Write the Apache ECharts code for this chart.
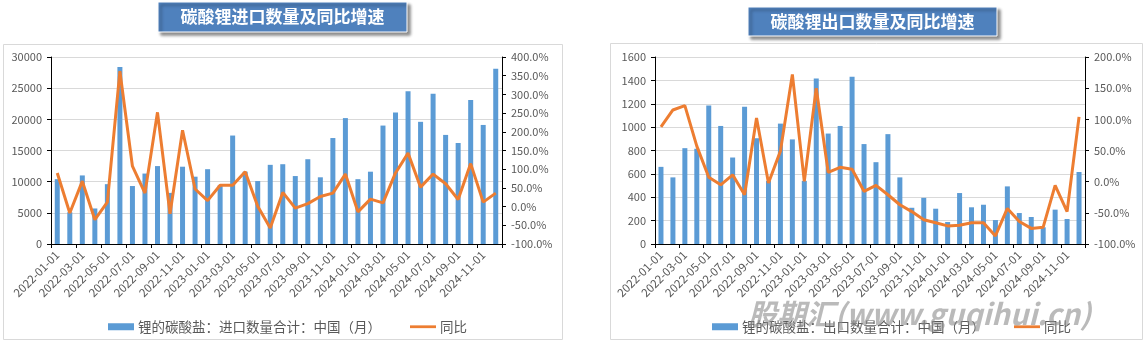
<!DOCTYPE html>
<html><head><meta charset="utf-8">
<script src="https://cdn.jsdelivr.net/npm/echarts@6/dist/echarts.min.js"></script>
<style>html,body{margin:0;padding:0;background:#fff}#c{width:1146px;height:342px}</style>
</head><body><div id="c"></div>
<script>
const categories = [
 '2022-01-01','2022-02-01','2022-03-01','2022-04-01','2022-05-01','2022-06-01','2022-07-01','2022-08-01','2022-09-01','2022-10-01','2022-11-01','2022-12-01',
 '2023-01-01','2023-02-01','2023-03-01','2023-04-01','2023-05-01','2023-06-01','2023-07-01','2023-08-01','2023-09-01','2023-10-01','2023-11-01','2023-12-01',
 '2024-01-01','2024-02-01','2024-03-01','2024-04-01','2024-05-01','2024-06-01','2024-07-01','2024-08-01','2024-09-01','2024-10-01','2024-11-01','2024-12-01'];
const importQty = [10400,5100,11000,5700,9600,28400,9300,11300,12500,8200,12400,10800,
 12000,9400,17400,11600,10100,12700,12800,10900,13600,10700,17000,20200,
 10400,11600,19000,21100,24500,19600,24100,17500,16200,23100,19100,28100];
const importYoY = [90,-17,68,-35,12,362,108,36,252,-19,204,47,
 16,57,57,93,1,-57,38,-4,8,27,36,87,
 -14,20,10,90,143,52,87,61,19,115,12,36];
const exportQty = [660,570,820,815,1185,1010,740,1175,905,540,1030,895,
 540,1415,945,1010,1430,855,700,940,570,310,395,302,
 188,436,314,336,205,493,265,231,143,294,214,616];
const exportYoY = [88,115,122,57,7,-5,11,-21,102,-2,49,172,
 0.5,150,15,23,20,-15.5,-6,-21,-37,-48,-61,-66,
 -71,-70,-66,-66,-87,-43,-64,-75,-73,-6,-48,104];
const titles = ['碳酸锂进口数量及同比增速','碳酸锂出口数量及同比增速'];
const barNames = ['锂的碳酸盐：进口数量合计：中国（月）','锂的碳酸盐：出口数量合计：中国（月）'];
const lineName = '同比';
const watermark = '股期汇(www.guqihui.cn)';

const TXT = '#595959', FONT = '"Noto Sans CJK SC","Noto Sans",sans-serif';
const BLUE = '#5B9BD5', ORANGE = '#ED7D31';

function xAx(gi){
  return {type:'category', gridIndex:gi, data:categories, boundaryGap:true,
    axisLine:{lineStyle:{color:'#000',width:1}},
    axisTick:{show:true, interval:1, length:4, lineStyle:{color:'#000'}},
    axisLabel:{interval:1, rotate:45, fontSize:11.5, color:TXT, margin:9, fontFamily:FONT}};
}
function yAxL(gi,max,intv){
  return {type:'value', gridIndex:gi, min:0, max:max, interval:intv, position:'left',
    axisLine:{show:true, lineStyle:{color:'#000'}},
    axisTick:{show:true, length:4, lineStyle:{color:'#000'}},
    splitLine:{show:true, lineStyle:{color:'#D9D9D9', width:1}},
    axisLabel:{fontSize:11, color:TXT, margin:9, fontFamily:FONT, formatter:v=>String(v)}};
}
function yAxR(gi,min,max,intv){
  return {type:'value', gridIndex:gi, min:min, max:max, interval:intv, position:'right',
    axisLine:{show:true, lineStyle:{color:'#000'}},
    axisTick:{show:true, length:4, lineStyle:{color:'#000'}},
    splitLine:{show:false},
    axisLabel:{fontSize:11, color:TXT, margin:9, fontFamily:FONT, formatter:v=>v.toFixed(1)+'%'}};
}
function titleBox(x,y,w,h,text){
  return [
    {type:'rect', z:50, shape:{x:x,y:y,width:w,height:h},
      style:{fill:'#4F81BD', stroke:'#fff', lineWidth:1, shadowBlur:3, shadowOffsetX:3, shadowOffsetY:3, shadowColor:'rgba(0,0,0,0.45)'}},
    {type:'text', z:51, x:x+w/2, y:y+h/2,
      style:{text:text, fill:'#fff', font:'bold 17px '+FONT, align:'center', verticalAlign:'middle'}}
  ];
}
const chart = echarts.init(document.getElementById('c'), null, {renderer:'canvas'});
chart.setOption({
  animation:false,
  backgroundColor:'#fff',
  textStyle:{fontFamily:FONT},
  graphic:[
    {type:'rect', z:-10, shape:{x:3.5,y:44.5,width:559,height:295}, style:{fill:'#fff', stroke:'#D9D9D9', lineWidth:1}},
    {type:'rect', z:-10, shape:{x:610.5,y:43.5,width:532,height:296}, style:{fill:'#fff', stroke:'#D9D9D9', lineWidth:1}},
    ...titleBox(158,2,249,30,titles[0]),
    ...titleBox(748,7,249,29,titles[1]),
    {type:'text', z:60, x:748, y:314,
      style:{text:watermark, fill:'rgba(140,140,140,0.6)', font:'italic bold 29px '+FONT, verticalAlign:'middle'}}
  ],
  legend:[
    {left:103, top:315, itemWidth:26, itemHeight:7, itemGap:29, icon:'rect',
      data:[{name:barNames[0]},{name:lineName, icon:'path://M0,0H28V3H0Z'}],
      textStyle:{fontSize:13.5, color:TXT, fontFamily:FONT, padding:[0,0,0,-1]}},
    {left:707, top:315, itemWidth:26, itemHeight:7, itemGap:29, icon:'rect',
      data:[{name:barNames[1]},{name:lineName, icon:'path://M0,0H28V3H0Z'}],
      textStyle:{fontSize:13.5, color:TXT, fontFamily:FONT, padding:[0,0,0,-1]}}
  ],
  grid:[
    {left:51, right:644, top:57, bottom:98, containLabel:false},
    {left:655, right:61, top:57, bottom:98, containLabel:false}
  ],
  xAxis:[xAx(0), xAx(1)],
  yAxis:[yAxL(0,30000,5000), yAxR(0,-100,400,50), yAxL(1,1600,200), yAxR(1,-100,200,50)],
  series:[
    {name:barNames[0], type:'bar', xAxisIndex:0, yAxisIndex:0, data:importQty, barWidth:5, itemStyle:{color:BLUE}},
    {name:lineName, type:'line', xAxisIndex:0, yAxisIndex:1, data:importYoY, symbol:'none', lineStyle:{color:ORANGE, width:3}, itemStyle:{color:ORANGE}, z:3},
    {name:barNames[1], type:'bar', xAxisIndex:1, yAxisIndex:2, data:exportQty, barWidth:5, itemStyle:{color:BLUE}},
    {name:lineName, type:'line', xAxisIndex:1, yAxisIndex:3, data:exportYoY, symbol:'none', lineStyle:{color:ORANGE, width:3}, itemStyle:{color:ORANGE}, z:3}
  ]
});
</script></body></html>
